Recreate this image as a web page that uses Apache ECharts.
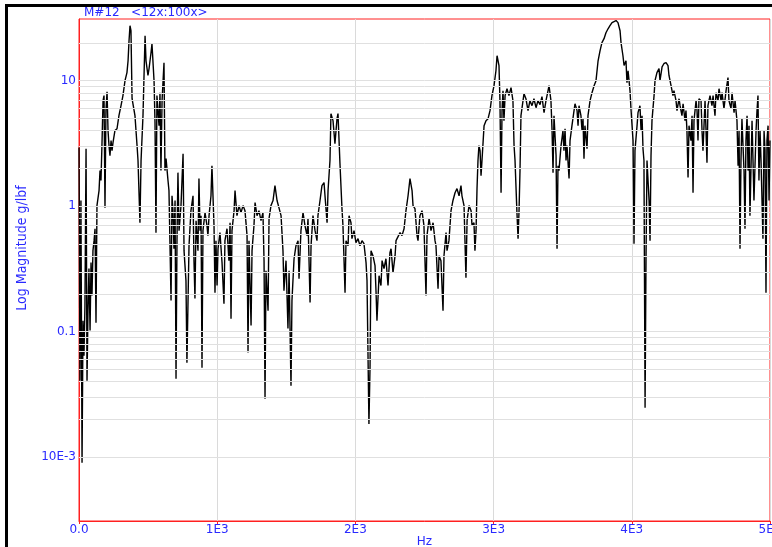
<!DOCTYPE html>
<html>
<head>
<meta charset="UTF-8"/>
<title>FRF M#12</title>
<style>
    * { margin: 0; padding: 0; }
    body { background: #fff; width: 772px; height: 547px; overflow: hidden; position: relative; }
    #chart { position: absolute; left: 0; top: 0; width: 772px; height: 547px; }
    #frame {
        position: absolute; left: 5px; top: 4px; width: 767px; height: 543px;
        border-top: 3px solid #000; border-left: 3px solid #000;
        pointer-events: none; z-index: 5;
    }
</style>
<script src="https://cdn.jsdelivr.net/npm/echarts@6.0.0/dist/echarts.min.js"></script>
</head>
<body>
<div id="chart"></div>
<div id="frame"></div>
<script>
    // frequency (Hz) and log magnitude (g/lbf)
    const freqHz = [
        0,7,14,22,29,36,43,51,58,65,72,80,87,94,101,109,116,123,130,145,
        152,159,166,174,181,188,195,203,210,217,224,232,239,246,260,275,289,304,318,333,
        347,355,362,369,376,384,391,405,420,427,441,449,463,478,485,499,507,521,528,543,
        550,557,564,579,586,593,601,615,622,630,644,651,666,673,680,687,695,702,709,716,
        724,738,753,760,774,781,796,810,825,832,839,847,861,
        868,876,883,890,897,912,926,933,941,955,962,977,984,991,999,1006,1020,1035,1049,1056,
        1071,1085,1093,1100,1107,1122,1129,1143,1158,1172,1187,1201,1216,1223,1230,1245,1252,1266,1274,1288,
        1302,1317,1331,1339,1346,1353,1368,1375,1389,1404,1418,1433,1447,1462,1476,1483,1498,1512,1520,1534,
        1541,1556,1570,1585,1592,1606,1621,1635,1650,1657,1672,1679,1693,
        1708,1722,1729,1744,1758,1773,1780,1795,1802,1816,1823,1838,1852,1867,1874,1889,1903,1910,1925,1932,
        1947,1954,1968,1975,1990,2004,2019,2033,2048,2062,2077,2084,2098,2106,2113,2127,2142,2149,2156,2171,
        2185,2193,2207,2221,2236,2250,2258,2272,2287,2294,2308,2323,2337,2352,2366,2381,2395,2410,2417,2431,
        2446,2453,2467,2482,2496,2511,2518,2533,2547,
        2562,2576,2583,2598,2605,2619,2634,2641,2656,2663,2677,2692,2706,2721,2735,2750,2764,2771,2786,2800,
        2808,2822,2837,2844,2858,2865,2873,2880,2887,2894,2902,2909,2916,2931,2945,2960,2974,2988,3003,3017,
        3025,3039,3046,3054,3061,3068,3075,3083,3097,3111,3126,3140,3148,3155,3169,3177,3184,3191,3198,3213,
        3220,3234,3249,3263,3278,3292,3307,3321,3336,3350,3365,3379,3394,
        3401,3415,3423,3430,3437,3452,3459,3466,3473,3488,3502,3509,3517,3524,3531,3546,3553,3567,3582,3589,
        3604,3611,3618,3632,3640,3647,3654,3661,3676,3683,3698,3712,3727,3741,3756,3770,3784,3799,3813,3828,
        3842,3857,3871,3886,3900,3915,3922,3936,3944,3958,3965,3973,3987,3994,4009,4016,4023,4038,4045,4059,
        4067,4074,4081,4088,4096,4103,4110,4125,4132,4139,4146,4161,4168,4182,4197,4204,4219,
        4233,4248,4262,4269,4284,4298,4305,4320,4327,4342,4349,4363,4371,4385,4392,4399,4407,4414,4428,4436,
        4443,4450,4465,4472,4479,4486,4501,4508,4515,4530,4537,4544,4551,4566,4580,4588,4602,4609,4624,4631,
        4646,4653,4667,4682,4696,4703,4718,4725,4740,4747,4761,4769,4776,4783,4790,4797,4812,4819,4826,4834,
        4841,4848,4855,4870,4877,4884,4899,4906,4913,4920,4928,4935,4949,4957,4964,4971,4978,4986,4993,5000
    ]

    const magnitude = [
        2.93,0.0407,1.11,0.00904,0.122,0.0644,0.161,2.87,0.0407,0.147,0.318,0.102,0.355,0.194,0.442,0.531,0.661,0.118,1.01,1.33,
        1.92,1.60,3.04,6.93,7.60,0.973,5.77,8.17,4.00,3.04,2.53,3.33,2.77,3.21,4.00,4.14,5.26,6.32,7.60,10.0,
        11.6,14.4,20.8,27.4,25.0,7.18,6.93,5.26,3.04,2.31,0.738,2.31,5.26,22.8,14.4,11.0,12.5,16.7,19.7,10.0,
        4.63,0.615,7.60,4.38,8.02,1.92,6.93,13.9,1.92,2.39,1.60,1.33,0.177,1.21,0.921,0.458,1.11,0.0422,0.531,1.85,
        0.638,1.01,2.62,0.442,0.255,0.0566,0.484,0.921,1.21,0.368,0.184,0.766,0.442,
        1.66,0.638,0.840,0.0517,0.638,0.888,0.699,0.582,0.840,1.21,2.10,0.699,0.204,0.531,0.233,0.458,0.615,0.355,0.167,0.531,
        0.661,0.368,0.738,0.127,0.638,0.921,1.33,0.840,1.01,0.888,1.01,0.921,0.582,0.0681,0.531,0.112,0.442,0.699,1.07,0.840,
        0.921,0.766,0.888,0.368,0.0292,0.306,0.147,0.795,1.01,1.11,1.46,1.11,1.15,0.840,0.442,0.212,0.368,0.106,0.306,0.0371,
        0.177,0.381,0.484,0.531,0.264,0.638,0.888,0.699,0.582,0.795,0.171,0.484,0.840,
        0.638,0.531,0.840,1.11,1.46,1.54,1.21,0.738,1.33,2.31,5.46,4.80,3.15,4.98,5.46,2.10,0.955,0.699,0.204,0.531,
        0.484,0.840,0.738,0.551,0.638,0.512,0.551,0.484,0.531,0.502,0.355,0.255,0.0184,0.0536,0.442,0.403,0.336,0.212,0.122,0.279,
        0.233,0.368,0.318,0.381,0.233,0.426,0.458,0.295,0.403,0.531,0.512,0.615,0.582,0.661,0.921,1.21,1.66,1.33,1.01,0.955,
        0.582,0.531,0.840,0.921,0.699,0.194,0.582,0.795,0.638,
        0.738,0.531,0.484,0.220,0.403,0.368,0.147,0.403,0.615,0.442,0.531,0.921,1.11,1.28,1.38,1.21,1.46,1.21,1.01,0.269,
        0.766,1.01,0.921,0.699,0.738,0.442,0.638,1.38,2.31,3.04,2.77,1.75,2.31,4.38,4.80,4.98,5.77,7.60,9.12,12.0,
        15.8,13.2,6.93,1.28,5.77,8.32,4.80,7.60,8.63,7.60,8.80,6.93,3.04,2.31,0.888,0.551,0.921,1.92,5.26,6.93,
        7.87,7.18,5.77,6.93,6.32,7.18,6.09,6.93,6.44,7.46,5.56,6.93,8.32,
        9.12,6.93,4.00,1.85,5.26,2.53,0.458,2.10,1.92,3.04,4.00,2.77,4.14,2.31,3.04,1.66,3.33,4.38,5.77,6.55,
        5.77,4.38,6.32,5.26,4.00,4.98,2.39,4.38,2.87,5.26,6.93,8.02,9.12,10.0,14.4,17.3,20.1,21.6,24.1,25.9,
        27.4,29.0,29.5,30.1,29.0,25.0,20.1,15.8,13.2,14.4,9.64,12.0,8.32,5.98,3.33,0.502,2.77,4.38,5.56,6.32,
        4.00,5.26,2.87,2.31,0.0248,0.403,2.31,1.11,0.531,2.53,4.80,7.60,10.0,11.6,12.5,10.0,12.9,
        13.7,13.9,13.2,11.0,9.12,7.60,8.32,6.93,5.77,7.18,6.32,5.26,6.55,4.80,5.77,4.00,1.69,4.38,3.33,5.26,
        1.28,4.80,6.93,5.77,3.33,7.18,6.93,4.00,2.77,6.93,4.00,2.22,6.32,7.60,6.32,7.60,5.26,8.02,6.93,8.63,
        6.93,8.02,5.98,8.32,10.6,6.93,5.98,8.02,5.56,6.93,4.80,2.10,4.00,0.458,2.31,4.98,1.92,0.661,3.33,5.26,
        1.92,4.38,0.840,4.80,2.31,1.11,4.00,5.77,7.60,1.60,4.00,2.31,0.551,4.00,2.77,0.204,3.33,4.38,1.11,3.33
    ]

    // log grid lines (2..9 per decade)
    const gridLineValues = [
        0.004, 0.005, 0.006, 0.007, 0.008, 0.009, 0.01,
        0.02, 0.03, 0.04, 0.05, 0.06, 0.07, 0.08, 0.09, 0.1,
        0.2, 0.3, 0.4, 0.5, 0.6, 0.7, 0.8, 0.9, 1,
        2, 3, 4, 5, 6, 7, 8, 9, 10, 20
    ]

    const yLabels = {'1': '10', '0': '1', '-1': '0.1', '-2': '10E-3'}

    const blue = '#2a2aff'
    const red = '#ff2020'
    const font = 'DejaVu Sans'

    const chart = echarts.init(document.getElementById('chart'), null, {renderer: 'canvas'})

    const frfData = freqHz.map((f, i) => [f, magnitude[i]])

    chart.setOption({
        animation: false,
        backgroundColor: '#fff',
        title: {
            text: 'M#12   <12x:100x>',
            left: 84,
            top: 7,
            padding: 0,
            textStyle: {color: blue, fontSize: 12, fontWeight: 'normal', fontFamily: font}
        },
        grid: {
            left: 79,
            top: 19,
            width: 691,
            height: 502,
            outerBoundsMode: 'none',
            containLabel: false,
            show: true,
            borderColor: red,
            borderWidth: 1,
            backgroundColor: '#fff'
        },
        xAxis: {
            type: 'value',
            min: 0,
            max: 5000,
            interval: 1000,
            name: 'Hz',
            nameLocation: 'middle',
            nameGap: 15,
            nameMoveOverlap: false,
            nameTextStyle: {color: blue, fontSize: 12, fontFamily: font},
            axisLine: {lineStyle: {color: red}},
            axisTick: {show: true, length: 3, lineStyle: {color: red}},
            axisLabel: {
                color: blue, fontSize: 12, fontFamily: font, margin: 3,
                formatter: v => v === 0 ? '0.0' : (v / 1000) + 'E3'
            },
            splitLine: {show: true, lineStyle: {color: '#dadada', width: 1}}
        },
        yAxis: {
            type: 'log',
            logBase: 10,
            min: 0.0031,
            max: 31,
            axisLine: {lineStyle: {color: red}},
            axisTick: {show: false},
            axisLabel: {
                color: blue, fontSize: 12, fontFamily: font, margin: 3,
                showMinLabel: false, showMaxLabel: false,
                formatter: v => {
                    const p = Math.log10(v)
                    if (Math.abs(p - Math.round(p)) > 0.01) return ''
                    return yLabels[String(Math.round(p))] || ''
                }
            },
            splitLine: {show: false}
        },
        graphic: [{
            type: 'text',
            x: 22,
            y: 248,
            rotation: Math.PI / 2,
            style: {
                text: 'Log Magnitude g/lbf',
                fill: blue,
                font: '14px "DejaVu Sans Condensed", "DejaVu Sans", sans-serif',
                align: 'center',
                verticalAlign: 'middle'
            }
        }],
        series: [
            {
                name: 'grid',
                type: 'line',
                data: [],
                silent: true,
                z: 1,
                markLine: {
                    silent: true,
                    animation: false,
                    symbol: ['none', 'none'],
                    label: {show: false},
                    lineStyle: {color: '#e0e0e0', type: 'solid', width: 1},
                    data: gridLineValues.map(v => ({yAxis: v}))
                }
            },
            {
                name: 'M#12',
                type: 'line',
                data: frfData,
                showSymbol: false,
                symbol: 'none',
                sampling: null,
                z: 3,
                lineStyle: {color: '#000', width: 1.4}
            }
        ]
    })
</script>
</body>
</html>
